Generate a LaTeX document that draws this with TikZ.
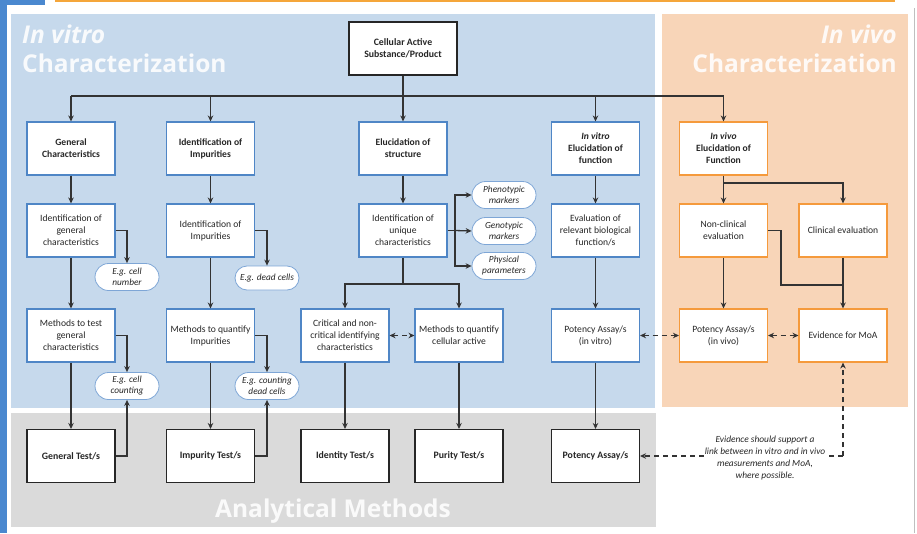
\documentclass[tikz,border=0pt]{standalone}
\usepackage{fontspec}
\setmainfont{Carlito}
\newfontfamily\titlefont{Open Sans}
\usetikzlibrary{arrows.meta,shapes.misc}
\definecolor{panelblue}{HTML}{C6D9EC}
\definecolor{panelorange}{HTML}{F8D5B8}
\definecolor{panelgrey}{HTML}{DADADA}
\definecolor{boxblue}{HTML}{4F86C6}
\definecolor{boxorange}{HTML}{F59A3C}
\definecolor{pillblue}{HTML}{7EA6D6}
\definecolor{linegrey}{HTML}{333333}
\definecolor{stripblue}{HTML}{4A88CF}
\definecolor{toporange}{HTML}{F5A63A}
\tikzset{
  basebox/.style={fill=white, line width=1.1pt, minimum width=88pt, minimum height=53pt,
    align=center, inner sep=1pt, text=black!85},
  bbox/.style={basebox, draw=boxblue, font=\fontsize{9.6}{12}\selectfont},
  obox/.style={basebox, draw=boxorange, font=\fontsize{9.6}{12}\selectfont},
  hbox/.style={bbox, font=\bfseries\fontsize{9.6}{12}\selectfont},
  hobox/.style={obox, font=\bfseries\fontsize{9.6}{12}\selectfont},
  kbox/.style={basebox, draw=black!85, font=\bfseries\fontsize{9.8}{12}\selectfont},
  pill/.style={rounded rectangle, draw=pillblue, fill=white, line width=0.8pt,
    minimum width=66pt, minimum height=27pt, inner sep=1pt, align=center,
    font=\itshape\fontsize{9.3}{11}\selectfont, text=black!85},
  conn/.style={draw=linegrey, line width=1.3pt},
  arr/.style={conn, -{Stealth[length=6pt,width=5.5pt]}},
  darr/.style={draw=linegrey, line width=1.1pt, dash pattern=on 5pt off 4pt,
    {Stealth[length=6pt,width=5.5pt]}-{Stealth[length=6pt,width=5.5pt]}},
  dline/.style={draw=linegrey, line width=1.1pt, dash pattern=on 5pt off 4pt},
  titletext/.style={text=white, opacity=0.88, inner sep=0pt,
    font=\titlefont\bfseries\fontsize{24.5}{28}\selectfont}
}
\begin{document}
\begin{tikzpicture}[x=1pt,y=-1pt]
\useasboundingbox (0,0) rectangle (917,533);
% frame pieces
\fill[white] (0,0) rectangle (917,533);
\fill[stripblue] (0,0) rectangle (7,533);
\fill[stripblue] (0,0) rectangle (45,5);
\draw[toporange, line width=2pt] (55,1) -- (895,1);
\draw[black!25, line width=0.8pt] (914,8) -- (914,533);
% panels
\fill[panelblue] (11,14) rectangle (655,408);
\fill[panelorange] (662,14) rectangle (908,407);
\fill[panelgrey] (11,413) rectangle (656,527);
% titles
\node[titletext, anchor=base west] (t1) at (22,43) {\itshape In vitro};
\node[titletext, anchor=base west] (t2) at (22,72) {Characterization};
\node[titletext, anchor=base east] (t3) at (897,43) {\itshape In vivo};
\node[titletext, anchor=base east] (t4) at (897,72) {Characterization};
\node[titletext, anchor=base west] (t5) at (215,517) {Analytical Methods};

% top
\node[kbox, minimum width=108pt] (top) at (403,48.5) {Cellular Active\\Substance/Product};
% row 1
\node[hbox] (n1) at (71,148.5) {General\\Characteristics};
\node[hbox] (n2) at (210.5,148.5) {Identification of\\Impurities};
\node[hbox] (n3) at (403,148.5) {Elucidation of\\structure};
\node[hbox] (n4) at (595.5,148.5) {{\itshape In vitro}\\Elucidation of\\function};
\node[hobox] (n5) at (723.5,148.5) {{\itshape In vivo}\\Elucidation of\\Function};
% row 2
\node[bbox] (r1) at (71,230.5) {Identification of\\general\\characteristics};
\node[bbox] (r2) at (210.5,230.5) {Identification of\\Impurities};
\node[bbox] (r3) at (403,230.5) {Identification of\\unique\\characteristics};
\node[bbox] (r4) at (595.5,230.5) {Evaluation of\\relevant biological\\function/s};
\node[obox] (nc) at (723.5,230.5) {Non-clinical\\evaluation};
\node[obox] (ce) at (843,230.5) {Clinical evaluation};
% row 3
\node[bbox] (m1) at (71,335.5) {Methods to test\\general\\characteristics};
\node[bbox] (m2) at (210.5,335.5) {Methods to quantify\\Impurities};
\node[bbox] (crit) at (345,335.5) {Critical and non-\\critical identifying\\characteristics};
\node[bbox] (methc) at (459,335.5) {Methods to quantify\\cellular active};
\node[bbox] (pav) at (595.5,335.5) {Potency Assay/s\\(in vitro)};
\node[obox] (pviv) at (723.5,335.5) {Potency Assay/s\\(in vivo)};
\node[obox] (moa) at (843,335.5) {Evidence for MoA};
% row 4
\node[kbox] (g1) at (71,456) {General Test/s};
\node[kbox] (g2) at (210.5,456) {Impurity Test/s};
\node[kbox] (g3) at (345,456) {Identity Test/s};
\node[kbox] (g4) at (459,456) {Purity Test/s};
\node[kbox] (g5) at (595.5,456) {Potency Assay/s};
% pills
\node[pill] (p1) at (127,277) {E.g. cell\\number};
\node[pill, minimum height=24pt] (p2) at (267,278) {E.g. dead cells};
\node[pill] (p3) at (127,386) {E.g. cell\\counting};
\node[pill] (p4) at (267,386) {E.g. counting\\dead cells};
\node[pill] (ph) at (504,195) {Phenotypic\\markers};
\node[pill] (ge) at (504,231) {Genotypic\\markers};
\node[pill] (py) at (504,266) {Physical\\parameters};
% note
\node[font=\itshape\fontsize{9.4}{11.7}\selectfont, align=center, text=black!85, inner sep=1pt] (note) at (765,458)
  {Evidence should support a\\link between in vitro and in vivo\\measurements and MoA,\\where possible.};

% bus
\coordinate (bus) at (403,96);
\draw[conn] (top.south) -- (bus);
\draw[conn] (n1.north |- bus) -- (n5.north |- bus);
\foreach \n in {n1,n2,n3,n4,n5} { \draw[arr] (\n.north |- bus) -- (\n.north); }
% row1 -> row2
\draw[arr] (n1) -- (r1);
\draw[arr] (n2) -- (r2);
\draw[arr] (n3) -- (r3);
\draw[arr] (n4) -- (r4);
\draw[arr] (n5) -- (nc);
\coordinate (s5) at (723.5,183);
\draw[arr] (s5) -| (ce.north);
% column 1 & 2
\draw[arr] (r1) -- (m1);
\draw[arr] (m1) -- (g1);
\draw[arr] (r1.east) -| (p1.north);
\draw[arr] (m1.east) -| (p3.north);
\draw[arr] (g1.east) -| (p3.south);
\draw[arr] (r2) -- (m2);
\draw[arr] (m2) -- (g2);
\draw[arr] (r2.east) -| (p2.north);
\draw[arr] (m2.east) -| (p4.north);
\draw[arr] (g2.east) -| (p4.south);
% column 3
\coordinate (j3) at (455,230.5);
\draw[conn] (r3.east) -- (j3);
\draw[arr] (j3) |- (ph.west);
\draw[arr] (j3) -- (ge.west);
\draw[arr] (j3) |- (py.west);
\coordinate (s3) at (403,284);
\draw[conn] (r3.south) -- (s3);
\draw[arr] (s3) -| (crit.north);
\draw[arr] (s3) -| (methc.north);
\draw[darr] (crit.east) -- (methc.west);
\draw[arr] (crit) -- (g3);
\draw[arr] (methc) -- (g4);
% column 4
\draw[arr] (r4) -- (pav);
\draw[arr] (pav) -- (g5);
\draw[darr] (pav.east) -- (pviv.west);
% in vivo
\draw[arr] (nc) -- (pviv);
\coordinate (j6) at (781,285);
\draw[conn] (nc.east) -| (j6) -- (ce.south |- j6);
\draw[arr] (ce) -- (moa);
\draw[darr] (pviv.east) -- (moa.west);
% evidence link
\coordinate (ncorner) at (843,456);
\draw[dline, -{Stealth[length=6pt,width=5.5pt]}] (ncorner) -- (moa.south);
\draw[dline] (ncorner) -- (note.east |- ncorner);
\draw[dline, -{Stealth[length=6pt,width=5.5pt]}] (note.west |- g5.east) -- (g5.east);
\end{tikzpicture}
\end{document}
